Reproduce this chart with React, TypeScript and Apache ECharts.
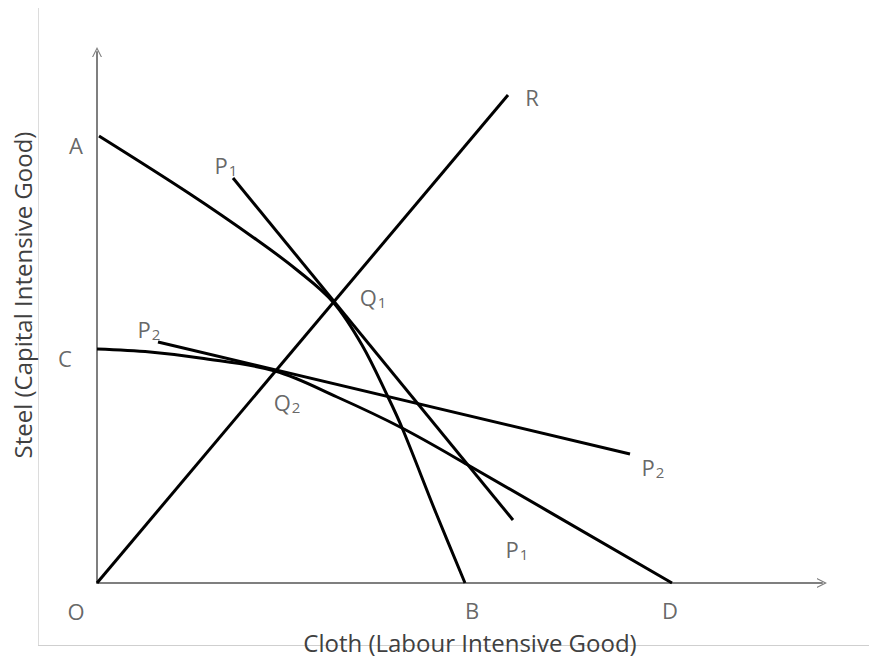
import React, { useEffect, useRef } from "react";
import * as echarts from "echarts";

// Data units: x = cloth, y = steel (origin O at 0,0)
const curveAB: number[][] = [
  [2, 447], [93, 389], [160, 343], [200, 313], [236, 281],
  [265, 238], [291, 186], [306, 153], [339, 70], [368, 0],
];
const curveCD: number[][] = [
  [0, 234], [53, 231], [103, 225], [178, 212], [240, 186],
  [305, 155], [371, 118], [575, 0],
];
const lineP1: number[][] = [[136, 405], [416, 63]];
const lineP2: number[][] = [[61, 241], [533, 129]];
const rayR: number[][] = [[0, 0], [411, 488]];

const labelNames = ["A", "C", "O", "B", "D", "R", "P1", "P1", "P2", "P2", "Q1", "Q2"];
const labelPoints: number[][] = [
  [-21, 438], [-32, 225], [-21, -28], [375, -27], [573, -27], [435, 486],
  [129, 418], [420, 34], [52, 254], [556, 116], [276, 286], [190, 181],
];

const xMax = 725;
const yMax = 531;
const xTitle = "Cloth (Labour Intensive Good)";
const yTitle = "Steel (Capital Intensive Good)";

const FONT = "'Open Sans', sans-serif";
const TEXT = "#404040";

export default function App() {
  const ref = useRef<HTMLDivElement>(null);
  useEffect(() => {
    if (!ref.current) return;
    const chart = echarts.init(ref.current, undefined, { renderer: "svg" });
    const chevron = "path://M0,10 L5,0 L10,10 L8.8,10 L5,2.6 L1.2,10 Z";
    const axisCommon = {
      type: "value" as const,
      min: 0,
      axisTick: { show: false },
      axisLabel: { show: false },
      splitLine: { show: false },
    };
    const lineSeries = (data: number[][], smooth: boolean | number) => ({
      type: "line",
      data,
      smooth,
      symbol: "none",
      silent: true,
      lineStyle: { color: "#000", width: 3 },
    });
    const fmt = (n: string) => (n.length > 1 ? `{m|${n[0]}}{s|${n.slice(1)}}` : `{m|${n}}`);
    chart.setOption({
      animation: false,
      backgroundColor: "#fff",
      grid: { left: 97, right: 47, top: 52, bottom: 76 },
      xAxis: {
        ...axisCommon,
        max: xMax,
        axisLine: {
          show: true,
          symbol: ["none", chevron],
          symbolSize: [11, 10],
          lineStyle: { color: "#7f7f7f", width: 2 },
        },
      },
      yAxis: {
        ...axisCommon,
        max: yMax,
        axisLine: {
          show: true,
          symbol: ["none", chevron],
          symbolSize: [11, 10],
          lineStyle: { color: "#7f7f7f", width: 2 },
        },
      },
      graphic: [
        { type: "line", shape: { x1: 38.5, y1: 8, x2: 38.5, y2: 645 }, style: { stroke: "#dcdcdc", lineWidth: 1 }, silent: true },
        { type: "line", shape: { x1: 38, y1: 645.5, x2: 869, y2: 645.5 }, style: { stroke: "#cfcfcf", lineWidth: 1 }, silent: true },
        {
          type: "text", x: 470, y: 642, z: 10,
          style: { text: xTitle, fill: TEXT, font: `24px ${FONT}`, lineHeight: 24, align: "center", verticalAlign: "middle" },
        },
        {
          type: "text", x: 22, y: 295, rotation: Math.PI / 2, z: 10,
          style: { text: yTitle, fill: TEXT, font: `24px ${FONT}`, lineHeight: 26, align: "center", verticalAlign: "middle" },
        },
      ],
      series: [
        lineSeries(curveAB, 0.35),
        lineSeries(curveCD, 0.35),
        lineSeries(lineP1, false),
        lineSeries(lineP2, false),
        lineSeries(rayR, false),
        {
          type: "scatter",
          clip: false,
          silent: true,
          symbolSize: 0,
          data: labelPoints.map((p, i) => ({ value: p, name: labelNames[i] })),
          label: {
            show: true,
            position: "inside",
            formatter: (p: any) => fmt(p.name),
            rich: {
              m: { fontSize: 22, lineHeight: 22, color: TEXT, fontFamily: FONT },
              s: { fontSize: 15, color: TEXT, fontFamily: FONT, padding: [10, 0, 0, 1] },
            },
          },
        },
      ],
    });
    return () => chart.dispose();
  }, []);
  return <div ref={ref} style={{ position: "absolute", left: 0, top: 0, width: 869, height: 659 }} />;
}
